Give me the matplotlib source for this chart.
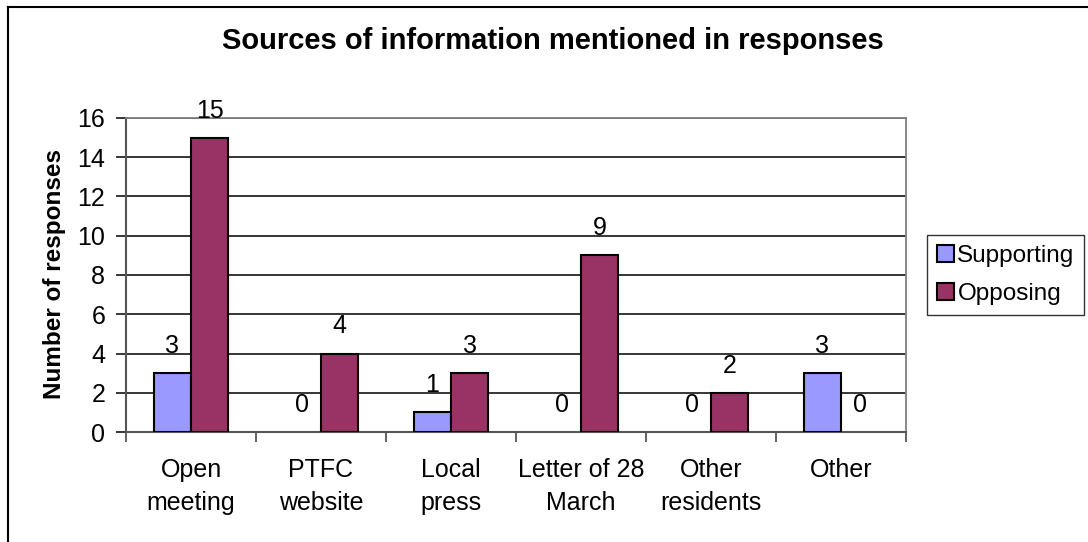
import numpy as np
import matplotlib
matplotlib.use("Agg")
import matplotlib.pyplot as plt
from matplotlib.lines import Line2D

categories = ["Open\nmeeting", "PTFC\nwebsite", "Local\npress", "Letter of 28\nMarch", "Other\nresidents", "Other"]
supporting = [3, 0, 1, 0, 0, 3]
opposing = [15, 4, 3, 9, 2, 0]
series_names = ["Supporting", "Opposing"]
yticks = [0, 2, 4, 6, 8, 10, 12, 14, 16]

plt.rcParams['font.family'] = ['Liberation Sans', 'DejaVu Sans']

W, H = 1088, 542
fig = plt.figure(figsize=(W / 100, H / 100), dpi=100)
fig.patch.set_facecolor('white')

ax = fig.add_axes([126 / W, 1 - 432 / H, (906 - 126) / W, (432 - 118) / H])

x = np.arange(len(categories))
w = 1 / 3.5
c_sup = '#9999FF'
c_opp = '#993366'
b1 = ax.bar(x - w / 2, supporting, w, color=c_sup, edgecolor='black', linewidth=1.5, zorder=3, label=series_names[0])
b2 = ax.bar(x + w / 2, opposing, w, color=c_opp, edgecolor='black', linewidth=1.5, zorder=3, label=series_names[1])

for bars, vals in ((b1, supporting), (b2, opposing)):
    for rect, v in zip(bars, vals):
        if v == 0:
            rect.set_linewidth(0)
        ax.annotate(str(v), (rect.get_x() + rect.get_width() / 2, v),
                    xytext=(0, 19.5), textcoords='offset points',
                    ha='center', va='center', fontsize=18, zorder=4)

ax.set_xlim(-0.5, len(categories) - 0.5)
ax.set_ylim(0, 16)
ax.set_yticks(yticks)
ax.set_yticklabels([str(t) for t in yticks], fontsize=18)
ax.yaxis.grid(True, color='black', linewidth=1.1, zorder=1)
ax.set_axisbelow(True)

ax.set_xticks(x)
ax.set_xticklabels(categories, fontsize=18, linespacing=1.45)
ax.set_xticks(np.arange(-0.5, len(categories), 1.0), minor=True)
ax.tick_params(axis='x', which='major', length=0, pad=19)
ax.tick_params(axis='x', which='minor', length=7, width=1.3, color='#555555', direction='out')
ax.tick_params(axis='y', length=7, width=1.1, pad=8, direction='out', color='black')

for s in ('top', 'right'):
    ax.spines[s].set_color('#808080')
    ax.spines[s].set_linewidth(1.3)
for s in ('left', 'bottom'):
    ax.spines[s].set_color('#555555')
    ax.spines[s].set_linewidth(1.5)

fig.text(553 / W, 1 - 49 / H, "Sources of information mentioned in responses",
         ha='center', va='baseline', fontsize=21, fontweight='bold')
fig.text(54 / W, 1 - 274 / H, "Number of responses", rotation=90,
         ha='center', va='center', fontsize=17.5, fontweight='bold')

leg = fig.legend(handles=[b1, b2], labels=series_names, loc='center left',
                 bbox_to_anchor=(927 / W, 1 - 275 / H), fontsize=17.5,
                 frameon=True, fancybox=False, shadow=False,
                 handlelength=0.7, handleheight=0.7, handletextpad=0.15,
                 borderpad=0.4, labelspacing=0.65, borderaxespad=0)
leg.get_frame().set_edgecolor('black')
leg.get_frame().set_linewidth(1.0)

# outer chart border (top and left visible)
fig.add_artist(Line2D([7.5 / W, 7.5 / W], [0, 1 - 6.5 / H], transform=fig.transFigure, color='black', linewidth=1.5))
fig.add_artist(Line2D([7.5 / W, 1], [1 - 6.5 / H, 1 - 6.5 / H], transform=fig.transFigure, color='black', linewidth=1.5))

fig.savefig("out.png", dpi=100)
